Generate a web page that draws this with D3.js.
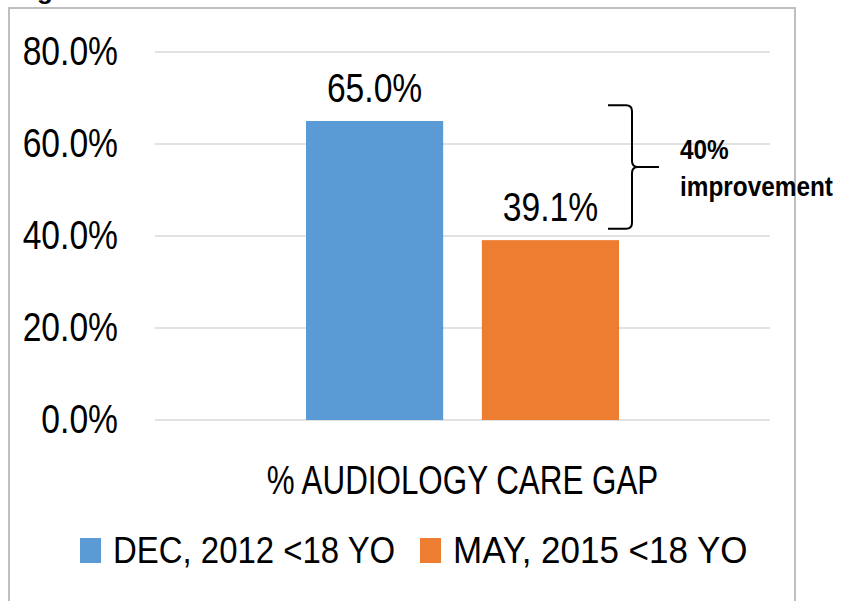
<!DOCTYPE html>
<html>
<head>
<meta charset="utf-8">
<script src="https://cdn.jsdelivr.net/npm/d3@7"></script>
<style>
  body { margin: 0; background: #fff; }
  text { font-family: "Liberation Sans", Arial, sans-serif; fill: #000; }
</style>
</head>
<body>
<div id="chart"></div>
<script>
// data
const categories = ["% AUDIOLOGY CARE GAP"];
const seriesNames = ["DEC, 2012 <18 YO", "MAY, 2015 <18 YO"];
const seriesValues = [0.65, 0.391];
const seriesColors = ["#5B9BD5", "#ED7D31"];
const yTicks = [0, 0.2, 0.4, 0.6, 0.8];
const annotationLines = ["40%", "improvement"];

const width = 848, height = 601;
const margin = { top: 52, left: 155, right: 78, bottom: 181 };
const innerWidth = width - margin.left - margin.right;
const innerHeight = height - margin.top - margin.bottom;

// squeeze text horizontally, the original font is a narrow one
function condense(sel, f) {
  sel.each(function(d, i) {
    let k = Array.isArray(f) ? f[i] : f;
    let w = this.getComputedTextLength();
    d3.select(this).attr("textLength", w * k).attr("lengthAdjust", "spacingAndGlyphs");
  });
}

const svg = d3.select("#chart").append("svg")
  .attr("width", width)
  .attr("height", height);

// chart frame (cut off at bottom in the original)
svg.append("rect")
  .attr("x", 9).attr("y", 8)
  .attr("width", 786).attr("height", 620)
  .attr("fill", "none")
  .attr("stroke", "#BFBFBF")
  .attr("stroke-width", 2);

// bit of the caption above the frame
svg.append("text")
  .attr("x", 14).attr("y", -1)
  .style("font-weight", "bold")
  .style("font-size", "26px")
  .text("Fig");

const g = svg.append("g")
  .attr("transform", `translate(${margin.left},${margin.top})`);

let x = d3.scaleBand().domain(categories).range([0, innerWidth]);
let xs = d3.scaleBand().domain(seriesNames)
  .range([x.bandwidth() / 2 - 156.5, x.bandwidth() / 2 + 156.5])
  .paddingInner(0.22);
let y = d3.scaleLinear().domain([0, 0.8]).range([innerHeight, 0]);

// gridlines
g.append("g").selectAll("line")
  .data(yTicks)
  .join("line")
  .attr("x1", 0).attr("x2", innerWidth)
  .attr("y1", d => y(d)).attr("y2", d => y(d))
  .attr("stroke", "#D9D9D9")
  .attr("stroke-width", 1.5);

// y axis labels
let yAxis = d3.axisLeft(y).tickValues(yTicks).tickFormat(d3.format(".1%")).tickSize(0).tickPadding(37);
g.append("g").attr("class", "y-axis").call(yAxis)
  .attr("font-family", null)
  .call(a => a.select(".domain").remove())
  .selectAll("text")
  .style("font-size", "41px")
  .attr("dy", "0.3em")
  .call(condense, 0.82);

// bars
const bars = g.append("g").selectAll("g")
  .data(seriesNames.map((s, i) => ({ name: s, value: seriesValues[i], color: seriesColors[i] })))
  .join("g")
  .attr("transform", `translate(${x(categories[0])},0)`);

bars.append("rect")
  .attr("x", d => xs(d.name))
  .attr("width", xs.bandwidth())
  .attr("y", d => y(d.value))
  .attr("height", d => innerHeight - y(d.value))
  .attr("fill", d => d.color);

bars.append("text")
  .attr("x", d => xs(d.name) + xs.bandwidth() / 2)
  .attr("y", d => y(d.value) - 19)
  .attr("text-anchor", "middle")
  .style("font-size", "41px")
  .text(d => d3.format(".1%")(d.value))
  .call(condense, 0.82);

// category label
g.append("text")
  .attr("x", x(categories[0]) + x.bandwidth() / 2)
  .attr("y", innerHeight + 74)
  .attr("text-anchor", "middle")
  .style("font-size", "41px")
  .text(categories[0])
  .call(condense, 0.765);

// bracket for the improvement
const bx = xs(seriesNames[1]) + xs.bandwidth() - 11;
const bTop = y(seriesValues[0] + 0.034), bBot = y(seriesValues[1] + 0.025);
const bMid = (bTop + bBot) / 2;
const r = 6;
g.append("path")
  .attr("d", `M${bx},${bTop} H${bx + 24 - r} Q${bx + 24},${bTop} ${bx + 24},${bTop + r}
    V${bMid - r} Q${bx + 24},${bMid} ${bx + 30},${bMid} H${bx + 51}
    M${bx + 30},${bMid} Q${bx + 24},${bMid} ${bx + 24},${bMid + r}
    V${bBot - r} Q${bx + 24},${bBot} ${bx + 24 - r},${bBot} H${bx}`)
  .attr("fill", "none")
  .attr("stroke", "#000")
  .attr("stroke-width", 2);

g.append("g").selectAll("text")
  .data(annotationLines)
  .join("text")
  .attr("x", bx + 72)
  .attr("y", (d, i) => bMid - 8 + i * 37)
  .style("font-size", "28px")
  .style("font-weight", "bold")
  .text(d => d)
  .call(condense, 0.87);

// legend
const legendX = [80, 420];
const legend = svg.append("g").selectAll("g")
  .data(seriesNames)
  .join("g")
  .attr("transform", (d, i) => `translate(${legendX[i]},0)`);

legend.append("rect")
  .attr("y", 538)
  .attr("width", 21).attr("height", 25)
  .attr("fill", (d, i) => seriesColors[i]);

legend.append("text")
  .attr("x", 33).attr("y", 563)
  .style("font-size", "37px")
  .text(d => d)
  .call(condense, [0.89, 0.945]);
</script>
</body>
</html>
